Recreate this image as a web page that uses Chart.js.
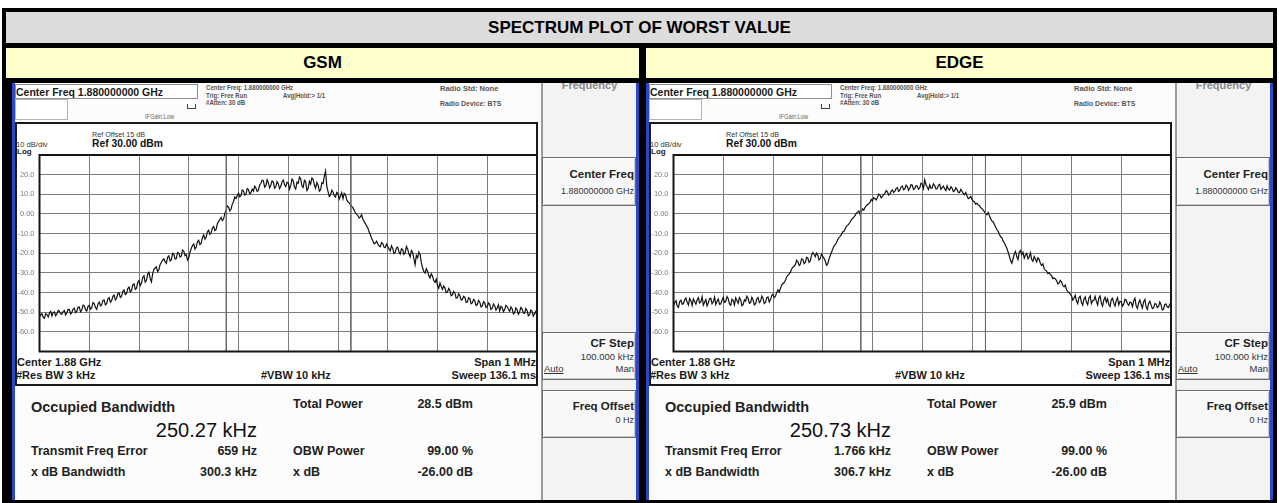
<!DOCTYPE html>
<html><head><meta charset="utf-8">
<script src="https://cdn.jsdelivr.net/npm/chart.js@4.4.1/dist/chart.umd.min.js"></script>
<style>
html,body{margin:0;padding:0;background:#fff;}
body{width:1279px;height:503px;position:relative;overflow:hidden;font-family:"Liberation Sans",Arial,Helvetica,sans-serif;}
.a{position:absolute;}
.hdr{position:absolute;display:flex;align-items:center;justify-content:center;font-weight:bold;font-size:17px;color:#000;}
.scr{position:absolute;top:0;width:0;height:0;}
canvas{position:absolute;}
</style>
</head><body>
<div class="a" style="left:2px;top:8px;width:1275px;height:495px;background:#000"></div>
<div class="hdr" style="left:6px;top:12px;width:1267px;height:31px;background:#dcdcdc">SPECTRUM PLOT OF WORST VALUE</div>
<div class="hdr" style="left:6px;top:48px;width:633px;height:30px;background:#ffffcc">GSM</div>
<div class="hdr" style="left:646px;top:48px;width:627px;height:30px;background:#ffffcc">EDGE</div>
<div class="scr" id="scrGSM" style="left:0px"></div>
<div class="scr" id="scrEDGE" style="left:634px"></div>
<script>
// ---------- data ----------
const SWEEP_START_KHZ = -500;   // offset from the 1.88 GHz centre
const SWEEP_STEP_KHZ = 2.5;
const SPAN_MIN_KHZ = -500, SPAN_MAX_KHZ = 500;
const REF_LEVEL_DBM = 30, BOTTOM_LEVEL_DBM = -70;
const yTickValues = [20, 10, 0, -10, -20, -30, -40, -50, -60];
const yTickLabels = ['20.0', '10.0', '0.00', '-10.0', '-20.0', '-30.0', '-40.0', '-50.0', '-60.0'];

const gsmTraceDbm = [
 -52.5,-51.3,-50.8,-52.6,-53.1,-50.7,-51.2,-52.4,-50.4,-49.6,-51.9,-50.2,-49.8,-51.8,-50.9,-49.1,-49.5,-50.8,-51.0,-49.7,
 -49.2,-51.4,-50.3,-48.6,-48.7,-50.9,-50.1,-48.4,-48.0,-50.2,-49.6,-47.5,-47.3,-49.8,-48.9,-46.4,-46.8,-48.7,-49.4,-47.0,
 -46.5,-48.4,-47.8,-45.1,-45.6,-47.6,-48.5,-45.9,-44.9,-46.8,-46.2,-44.0,-43.8,-46.3,-45.7,-43.2,-42.6,-44.9,-44.1,-41.9,
 -41.3,-43.7,-42.9,-40.6,-40.2,-42.5,-41.8,-39.4,-38.7,-41.1,-40.5,-37.9,-37.2,-39.7,-38.9,-36.1,-35.6,-38.4,-37.8,-34.8,
 -33.9,-36.5,-35.2,-32.3,-31.5,-34.7,-33.8,-30.6,-29.7,-32.9,-34.6,-30.4,-28.2,-27.5,-26.9,-29.3,-28.4,-25.7,-24.6,-23.5,
 -22.8,-24.3,-25.1,-22.0,-21.3,-23.9,-23.4,-20.1,-20.6,-22.9,-22.7,-19.6,-19.8,-21.9,-21.5,-18.4,-18.9,-21.2,-20.7,-23.5,
 -22.3,-19.4,-17.6,-16.1,-15.2,-17.9,-16.8,-14.2,-13.4,-15.6,-14.9,-12.0,-10.7,-12.8,-11.9,-9.1,-8.3,-10.4,-9.6,-7.2,
 -6.4,-8.5,-7.8,-5.0,-3.9,-2.8,-1.7,-3.4,-2.6,0.3,1.8,4.1,3.5,1.5,2.4,5.0,6.2,8.6,7.9,9.4,
 10.6,8.7,9.3,12.2,11.8,9.6,10.1,12.9,12.4,10.2,10.8,12.6,11.6,14.1,13.2,11.5,12.1,14.7,15.6,17.2,
 16.8,13.7,14.3,17.4,15.9,13.2,14.6,16.8,16.2,13.1,13.8,16.5,15.4,12.9,14.1,16.3,17.3,14.8,13.9,16.1,
 15.8,12.6,14.4,17.8,16.9,13.6,12.7,16.2,15.6,18.8,17.9,14.2,13.5,17.1,16.4,11.9,12.9,16.6,15.2,18.3,
 17.6,14.7,13.1,16.0,14.8,11.6,12.3,15.9,15.5,19.2,21.8,14.0,11.4,8.9,9.7,12.1,11.2,9.3,8.6,11.0,
 10.4,7.6,9.1,10.8,7.8,10.5,9.9,7.2,6.1,5.6,4.8,3.9,3.2,1.9,0.6,-0.2,-0.8,-2.1,-1.5,-0.4,
 -2.7,-3.8,-4.9,-6.0,-7.2,-9.1,-10.5,-12.4,-13.6,-15.2,-14.8,-13.9,-15.3,-16.2,-16.7,-14.6,-15.1,-16.9,-17.2,-15.4,
 -16.4,-17.9,-18.8,-16.2,-17.5,-20.1,-19.6,-17.3,-16.9,-19.2,-20.4,-17.7,-18.2,-20.6,-19.7,-16.5,-17.8,-20.3,-21.9,-18.6,
 -19.5,-22.7,-25.8,-21.1,-22.3,-19.4,-20.6,-24.8,-27.4,-29.3,-30.1,-27.9,-29.2,-31.4,-32.6,-30.5,-31.7,-33.9,-34.9,-33.2,
 -36.3,-37.8,-35.1,-36.9,-38.4,-36.7,-37.6,-40.1,-39.8,-37.9,-38.9,-41.6,-41.2,-39.4,-40.3,-42.9,-42.7,-40.6,-41.5,-43.8,
 -43.6,-41.9,-42.4,-45.0,-44.8,-42.6,-43.1,-45.7,-45.3,-43.5,-44.2,-46.6,-46.1,-44.0,-44.9,-47.3,-46.8,-44.7,-45.4,-47.5,
 -47.2,-45.3,-46.0,-48.6,-48.1,-45.9,-46.7,-48.9,-47.9,-46.2,-49.3,-47.0,-47.5,-49.7,-48.8,-46.5,-47.1,-48.4,-49.6,-47.3,
 -48.2,-50.9,-50.4,-47.8,-48.7,-51.1,-49.9,-47.6,-48.3,-50.3,-50.6,-48.1,-49.1,-51.8,-51.2,-48.9,-49.4,-52.0,-50.8,-49.6,
 -52.1
];
const edgeTraceDbm = [
 -46.8,-45.1,-44.2,-46.9,-47.5,-44.6,-43.9,-46.0,-45.6,-43.7,-42.8,-44.9,-46.3,-43.0,-44.1,-46.6,-43.2,-44.5,-45.9,-43.8,
 -42.6,-45.3,-44.8,-42.1,-46.4,-44.9,-43.5,-46.8,-45.2,-43.1,-42.9,-45.7,-44.7,-42.3,-46.1,-44.4,-43.3,-46.0,-45.8,-43.9,
 -42.4,-45.0,-44.6,-42.0,-43.1,-45.8,-46.5,-43.4,-44.0,-46.3,-42.7,-44.1,-45.4,-42.6,-43.6,-46.7,-46.2,-43.7,-44.3,-41.9,
 -42.9,-45.5,-45.1,-42.4,-43.8,-46.3,-45.7,-43.2,-42.5,-45.1,-44.4,-41.8,-43.0,-45.6,-44.9,-42.6,-42.2,-44.8,-43.6,-41.5,
 -40.8,-42.6,-41.9,-39.9,-38.6,-39.7,-37.9,-36.2,-35.4,-34.9,-33.8,-32.1,-31.2,-30.5,-29.6,-28.0,-27.1,-26.6,-25.8,-23.6,
 -24.3,-26.2,-25.6,-22.8,-23.1,-25.3,-24.7,-22.1,-22.4,-24.6,-23.9,-21.0,-19.6,-20.5,-21.8,-19.9,-20.9,-23.4,-22.7,-20.4,
 -21.5,-22.6,-23.8,-26.1,-25.4,-23.0,-21.2,-19.6,-17.9,-16.4,-15.6,-14.7,-13.1,-12.0,-11.4,-10.5,-9.2,-8.8,-7.6,-6.3,
 -5.8,-5.1,-4.1,-3.0,-2.3,-1.6,-0.7,0.4,0.9,1.6,-0.2,1.3,2.6,1.9,3.4,4.1,4.8,5.2,5.9,7.4,
 6.7,8.3,7.8,7.1,8.4,10.1,9.6,8.2,8.9,9.9,10.5,11.9,11.2,9.6,10.1,11.5,12.3,10.9,11.6,13.0,
 13.4,11.5,12.1,13.8,14.2,12.3,12.8,14.6,13.9,12.0,13.1,14.9,14.6,12.4,12.9,14.3,14.1,12.6,13.3,15.6,
 15.2,13.0,17.4,14.9,13.6,12.4,14.8,13.1,13.2,15.3,14.5,12.8,12.9,14.6,15.1,12.6,13.4,14.2,12.7,11.9,
 14.3,12.6,12.2,13.9,13.1,11.4,11.8,13.3,12.4,11.0,10.9,12.5,11.5,10.4,9.8,10.9,9.1,7.8,8.2,8.9,
 7.3,6.6,6.1,5.0,5.4,4.6,4.2,3.1,2.8,2.0,1.1,0.2,-0.4,0.8,-0.9,-2.4,-3.6,-4.1,-5.2,-6.7,
 -7.9,-8.8,-10.3,-11.6,-12.1,-13.7,-14.8,-16.1,-17.5,-19.3,-21.4,-23.6,-25.1,-22.8,-20.3,-19.1,-21.8,-23.2,-19.4,-18.6,
 -20.7,-19.5,-22.5,-20.9,-20.1,-22.8,-21.9,-19.8,-23.2,-24.1,-21.6,-22.9,-24.4,-22.3,-23.1,-25.2,-26.2,-25.4,-27.8,-28.6,
 -29.1,-30.4,-29.9,-30.8,-31.4,-32.9,-32.6,-33.1,-33.9,-35.6,-35.2,-33.8,-34.6,-36.3,-37.1,-36.2,-38.5,-39.6,-39.8,-40.9,
 -41.6,-43.8,-42.9,-41.4,-44.3,-45.6,-42.5,-41.9,-45.1,-46.4,-43.4,-42.2,-44.8,-46.1,-42.7,-41.6,-45.6,-44.2,-43.9,-42.0,
 -44.5,-46.3,-42.8,-41.7,-45.3,-46.8,-43.7,-42.4,-44.9,-43.2,-46.2,-47.1,-43.6,-42.9,-45.4,-46.9,-44.1,-42.6,-46.3,-44.5,
 -44.7,-46.9,-45.8,-43.4,-43.9,-45.7,-46.5,-44.8,-45.1,-47.2,-44.3,-42.9,-46.8,-48.1,-45.2,-43.8,-46.1,-47.9,-44.6,-43.5,
 -47.3,-48.6,-45.5,-44.4,-46.4,-48.2,-47.8,-45.6,-45.9,-47.7,-47.1,-44.8,-46.2,-48.9,-48.4,-46.1,-45.8,-47.4,-47.6,-45.9,
 -46.3
];
// occupied-bandwidth edge markers (kHz from centre)
const gsmObwEdgesKHz = [-124.5, 125.8];
const edgeObwEdgesKHz = [-123.6, 127.1];

const gsmTexts = {
  totalPower: '28.5 dBm', obw: '250.27 kHz', freqErr: '659 Hz', obwPower: '99.00 %', xdbBw: '300.3 kHz', xdb: '-26.00 dB'
};
const edgeTexts = {
  totalPower: '25.9 dBm', obw: '250.73 kHz', freqErr: '1.766 kHz', obwPower: '99.00 %', xdbBw: '306.7 kHz', xdb: '-26.00 dB'
};

// ---------- helpers ----------
function el(parent, css, text) {
  const d = document.createElement('div');
  d.style.cssText = 'position:absolute;' + css;
  if (text != null) d.textContent = text;
  parent.appendChild(d);
  return d;
}
function txt(parent, s, x, cy, size, o) {
  o = o || {};
  const pos = o.right ? `left:${x - 300}px;width:300px;text-align:right;` : `left:${x}px;`;
  return el(parent, `white-space:nowrap;line-height:1;font-size:${size}px;top:${(cy - size * 0.5).toFixed(1)}px;` +
    `font-weight:${o.w || 'bold'};color:${o.c || '#1c1c1c'};` + pos + (o.css || ''), s);
}
const NARROW = 'transform:scaleX(0.81);transform-origin:0 50%;';

const framePlugin = {
  id: 'frame',
  afterDraw(c) {
    const { ctx, chartArea: a } = c;
    ctx.save();
    ctx.strokeStyle = '#161616';
    ctx.lineWidth = 2;
    ctx.strokeRect(a.left, a.top, a.right - a.left, a.bottom - a.top);
    ctx.restore();
  }
};

function buildScreen(root, t, trace, obwEdges) {
  // window frame
  el(root, 'left:12px;top:83px;width:3px;height:417px;background:#2a48c8');
  el(root, 'left:636px;top:83px;width:3px;height:417px;background:#2a48c8');
  el(root, 'left:15px;top:83px;width:621px;height:417px;background:#fcfcfc');
  // header
  el(root, 'left:15px;top:84px;width:183px;height:15px;border:1px solid #8e8e8e;box-sizing:border-box;background:#fff');
  el(root, 'left:15px;top:99px;width:53px;height:21px;border:1px solid #b4b4b4;box-sizing:border-box;background:#fff');
  txt(root, 'Center Freq 1.880000000 GHz', 16, 92, 10.5, { c: '#1a1a1a' });
  txt(root, 'IFGain:Low', 145, 116, 7, { w: 'normal', c: '#666', css: NARROW });
  el(root, 'left:187px;top:104px;width:7px;height:4px;border:1px solid #444;border-top:none;');
  txt(root, 'Center Freq: 1.880000000 GHz', 206, 88, 7.5, { c: '#555', css: NARROW });
  txt(root, 'Trig: Free Run', 206, 95.5, 7.5, { c: '#555', css: NARROW });
  txt(root, 'Avg|Hold:> 1/1', 283, 95.5, 7.5, { c: '#555', css: NARROW });
  txt(root, '#Atten: 30 dB', 206, 103, 7.5, { c: '#555', css: NARROW });
  txt(root, 'Radio Std: None', 440, 89, 7.5, { c: '#555' });
  txt(root, 'Radio Device: BTS', 440, 104, 7.5, { c: '#555', css: 'transform:scaleX(0.92);transform-origin:0 50%;' });
  // softkey panel
  const sk = el(root, 'left:541px;top:83px;width:95px;height:417px;background:#f3f3f3;border-left:2px solid #9c9c9c;box-sizing:border-box;overflow:hidden');
  el(sk, 'left:0;top:-3px;width:93px;text-align:center;font-size:11px;font-weight:bold;color:#8a8a8a;line-height:1', 'Frequency');
  const boxCss = 'width:94px;border:1px solid #6a6a6a;box-sizing:border-box;background:#f8f8f8;box-shadow:inset 1px 1px 0 #fff,inset -1px -1px 0 #c8c8c8;';
  el(root, 'left:542px;top:157px;height:49px;' + boxCss);
  txt(root, 'Center Freq', 634, 175, 11.5, { right: true, c: '#222' });
  txt(root, '1.880000000 GHz', 634, 191, 9, { right: true, w: 'normal', c: '#333' });
  el(root, 'left:542px;top:332px;height:48px;' + boxCss);
  txt(root, 'CF Step', 634, 344, 11.5, { right: true, c: '#222' });
  txt(root, '100.000 kHz', 634, 356.5, 9.5, { right: true, w: 'normal', c: '#333' });
  txt(root, 'Auto', 544, 369, 9.5, { w: 'normal', c: '#333', css: 'text-decoration:underline;' });
  txt(root, 'Man', 634, 369, 9.5, { right: true, w: 'normal', c: '#333' });
  el(root, 'left:542px;top:390px;height:48px;' + boxCss);
  txt(root, 'Freq Offset', 634, 407, 11.5, { right: true, c: '#222' });
  txt(root, '0 Hz', 634, 420.5, 9, { right: true, w: 'normal', c: '#333' });
  // plot frame
  el(root, 'left:15px;top:122px;width:523px;height:264px;border:2px solid #1a1a1a;box-sizing:border-box;background:#fff');
  txt(root, 'Ref Offset 15 dB', 92, 135, 7.2, { w: 'normal', c: '#333' });
  txt(root, 'Ref 30.00 dBm', 92, 144, 10.3, { c: '#111' });
  txt(root, '10 dB/div', 16, 145, 7.6, { w: 'normal', c: '#333' });
  txt(root, 'Log', 17, 151.5, 8, { c: '#222' });
  txt(root, 'Center  1.88 GHz', 17, 362.5, 11, { c: '#1a1a1a' });
  txt(root, '#Res BW  3 kHz', 16, 375, 11, { c: '#1a1a1a' });
  txt(root, '#VBW  10 kHz', 261, 375, 11, { c: '#1a1a1a' });
  txt(root, 'Span 1 MHz', 536, 362.5, 11, { right: true, c: '#1a1a1a' });
  txt(root, 'Sweep  136.1 ms', 536, 375, 11, { right: true, c: '#1a1a1a' });
  // results
  txt(root, 'Occupied Bandwidth', 31, 407, 14.5, { c: '#222' });
  txt(root, t.obw, 257, 430, 20, { right: true, w: 'normal', c: '#111' });
  txt(root, 'Total Power', 293, 404, 12.5, { c: '#222' });
  txt(root, t.totalPower, 473, 404, 12.5, { right: true, c: '#222' });
  txt(root, 'Transmit Freq Error', 31, 451.5, 12.5, { c: '#222' });
  txt(root, t.freqErr, 257, 451.5, 12.5, { right: true, c: '#222' });
  txt(root, 'OBW Power', 293, 451.5, 12.5, { c: '#222' });
  txt(root, t.obwPower, 473, 451.5, 12.5, { right: true, c: '#222' });
  txt(root, 'x dB Bandwidth', 31, 472.5, 12.5, { c: '#222' });
  txt(root, t.xdbBw, 257, 472.5, 12.5, { right: true, c: '#222' });
  txt(root, 'x dB', 293, 472.5, 12.5, { c: '#222' });
  txt(root, t.xdb, 473, 472.5, 12.5, { right: true, c: '#222' });

  // chart
  const cv = document.createElement('canvas');
  cv.width = 523; cv.height = 216;
  cv.style.cssText = 'left:15px;top:145px;width:523px;height:216px;';
  root.appendChild(cv);
  const pts = trace.map((v, i) => ({ x: SWEEP_START_KHZ + i * SWEEP_STEP_KHZ, y: v }));
  const vline = (x) => [{ x: x, y: REF_LEVEL_DBM }, { x: x, y: BOTTOM_LEVEL_DBM }];
  new Chart(cv, {
    type: 'line',
    data: {
      datasets: [
        { data: vline(obwEdges[0]), borderColor: '#6a6a6a', borderWidth: 1, pointRadius: 0 },
        { data: vline(obwEdges[1]), borderColor: '#6a6a6a', borderWidth: 1, pointRadius: 0 },
        { data: pts, borderColor: '#111111', borderWidth: 1.2, pointRadius: 0, tension: 0 }
      ]
    },
    options: {
      responsive: false, maintainAspectRatio: false, animation: false,
      layout: { padding: { top: 10, bottom: 8, left: 0, right: 1 } },
      plugins: { legend: { display: false }, tooltip: { enabled: false } },
      scales: {
        x: {
          type: 'linear', min: SPAN_MIN_KHZ, max: SPAN_MAX_KHZ,
          ticks: { display: false, stepSize: 100 },
          grid: { color: '#7c7c7c', lineWidth: 1, drawTicks: false },
          border: { display: false },
          afterFit(s) { s.height = 0; }
        },
        y: {
          min: BOTTOM_LEVEL_DBM, max: REF_LEVEL_DBM,
          ticks: {
            stepSize: 10, padding: 5, color: '#7c7c7c',
            font: { family: 'Liberation Sans', size: 7.5 },
            callback: (v) => { const k = yTickValues.indexOf(v); return k >= 0 ? yTickLabels[k] : ''; }
          },
          grid: { color: '#7c7c7c', lineWidth: 1, drawTicks: false },
          border: { display: false },
          afterFit(s) { s.width = 24.5; }
        }
      }
    },
    plugins: [framePlugin]
  });
}

buildScreen(document.getElementById('scrGSM'), gsmTexts, gsmTraceDbm, gsmObwEdgesKHz);
buildScreen(document.getElementById('scrEDGE'), edgeTexts, edgeTraceDbm, edgeObwEdgesKHz);
</script>
</body></html>
